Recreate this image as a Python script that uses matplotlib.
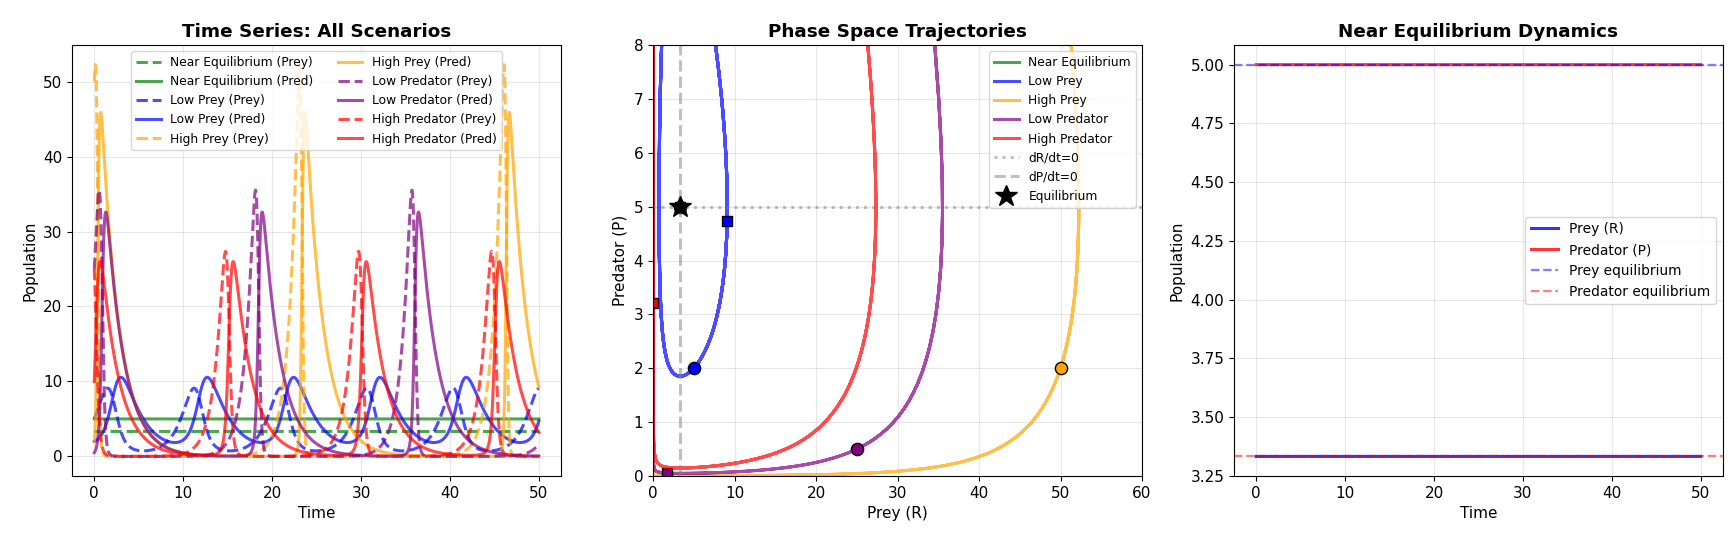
import numpy as np
import matplotlib
matplotlib.use("Agg")
import matplotlib.pyplot as plt

# --------------------
# Model parameters (Lotka-Volterra)
# --------------------
alpha = 1.0    # prey growth
beta = 0.2     # predation rate
gamma = 0.5    # predator death
delta = 0.15   # predator efficiency

R_eq = gamma / delta   # 3.33
P_eq = alpha / beta    # 5.0

# scenarios: name, initial prey, initial predator, colour
scenario_names = ["Near Equilibrium", "Low Prey", "High Prey", "Low Predator", "High Predator"]
prey0 = [R_eq, 5.0, 50.0, 25.0, 25.0]
pred0 = [P_eq, 2.0, 2.0, 0.5, 10.0]
colors = ["green", "blue", "orange", "purple", "red"]

t_end = 50
n_points = 2000


def rhs(y):
    R, P = y
    return np.array([alpha * R - beta * R * P, delta * R * P - gamma * P])


def integrate(y0, t, sub=10):
    out = np.zeros((len(t), 2))
    y = np.array(y0, dtype=float)
    out[0] = y
    for i in range(1, len(t)):
        h = (t[i] - t[i - 1]) / sub
        for _ in range(sub):
            k1 = rhs(y)
            k2 = rhs(y + 0.5 * h * k1)
            k3 = rhs(y + 0.5 * h * k2)
            k4 = rhs(y + h * k3)
            y = y + h / 6 * (k1 + 2 * k2 + 2 * k3 + k4)
        out[i] = y
    return out


t = np.linspace(0, t_end, n_points)
solutions = [integrate([r, p], t) for r, p in zip(prey0, pred0)]

# --------------------
# Figure
# --------------------
plt.rcParams['xtick.labelsize'] = 11
plt.rcParams['ytick.labelsize'] = 11
lw = 2.2
title_kw = dict(fontsize=13.2, fontweight='bold')

fig = plt.figure(figsize=(17.28, 5.34), dpi=100)
ax1 = fig.add_axes([0.0417, 0.1086, 0.283, 0.807])
ax2 = fig.add_axes([0.3779, 0.1086, 0.283, 0.807])
ax3 = fig.add_axes([0.7141, 0.1086, 0.283, 0.807])

# Time series
for name, c, sol in zip(scenario_names, colors, solutions):
    ax1.plot(t, sol[:, 0], '--', color=c, lw=lw, alpha=0.7, label=f"{name} (Prey)")
    ax1.plot(t, sol[:, 1], '-', color=c, lw=lw, alpha=0.7, label=f"{name} (Pred)")
ax1.set_xlabel("Time", fontsize=11)
ax1.set_ylabel("Population", fontsize=11)
ax1.set_title("Time Series: All Scenarios", **title_kw)
ax1.legend(ncol=2, fontsize=8.8, loc='upper center')
ax1.grid(True, alpha=0.3)

# Phase space
for name, c, sol in zip(scenario_names, colors, solutions):
    ax2.plot(sol[:, 0], sol[:, 1], color=c, lw=lw, alpha=0.7, label=name)
    ax2.plot(sol[0, 0], sol[0, 1], 'o', color=c, markersize=8.8, markeredgecolor='black')
    ax2.plot(sol[-1, 0], sol[-1, 1], 's', color=c, markersize=6.6, markeredgecolor='black')
ax2.axhline(P_eq, color='gray', ls=':', lw=lw, alpha=0.5, label='dR/dt=0')
ax2.axvline(R_eq, color='gray', ls='--', lw=lw, alpha=0.5, label='dP/dt=0')
ax2.plot(R_eq, P_eq, 'k*', markersize=16.5, label='Equilibrium')
ax2.set_xlim(0, 60)
ax2.set_ylim(0, 8)
ax2.set_xlabel("Prey (R)", fontsize=11)
ax2.set_ylabel("Predator (P)", fontsize=11)
ax2.set_title("Phase Space Trajectories", **title_kw)
ax2.legend(fontsize=8.8, loc='upper right')
ax2.grid(True, alpha=0.3)

# Near equilibrium
near = solutions[0]
ax3.plot(t, near[:, 0], 'b-', lw=lw, alpha=0.8, label='Prey (R)')
ax3.plot(t, near[:, 1], 'r-', lw=lw, alpha=0.8, label='Predator (P)')
ax3.axhline(P_eq, color='blue', ls='--', lw=1.65, alpha=0.5, label='Prey equilibrium')
ax3.axhline(R_eq, color='red', ls='--', lw=1.65, alpha=0.5, label='Predator equilibrium')
ax3.set_xlabel("Time", fontsize=11)
ax3.set_ylabel("Population", fontsize=11)
ax3.set_title("Near Equilibrium Dynamics", **title_kw)
ax3.legend(fontsize=9.9, loc='center right')
ax3.grid(True, alpha=0.3)

fig.savefig("out.png", dpi=100)
